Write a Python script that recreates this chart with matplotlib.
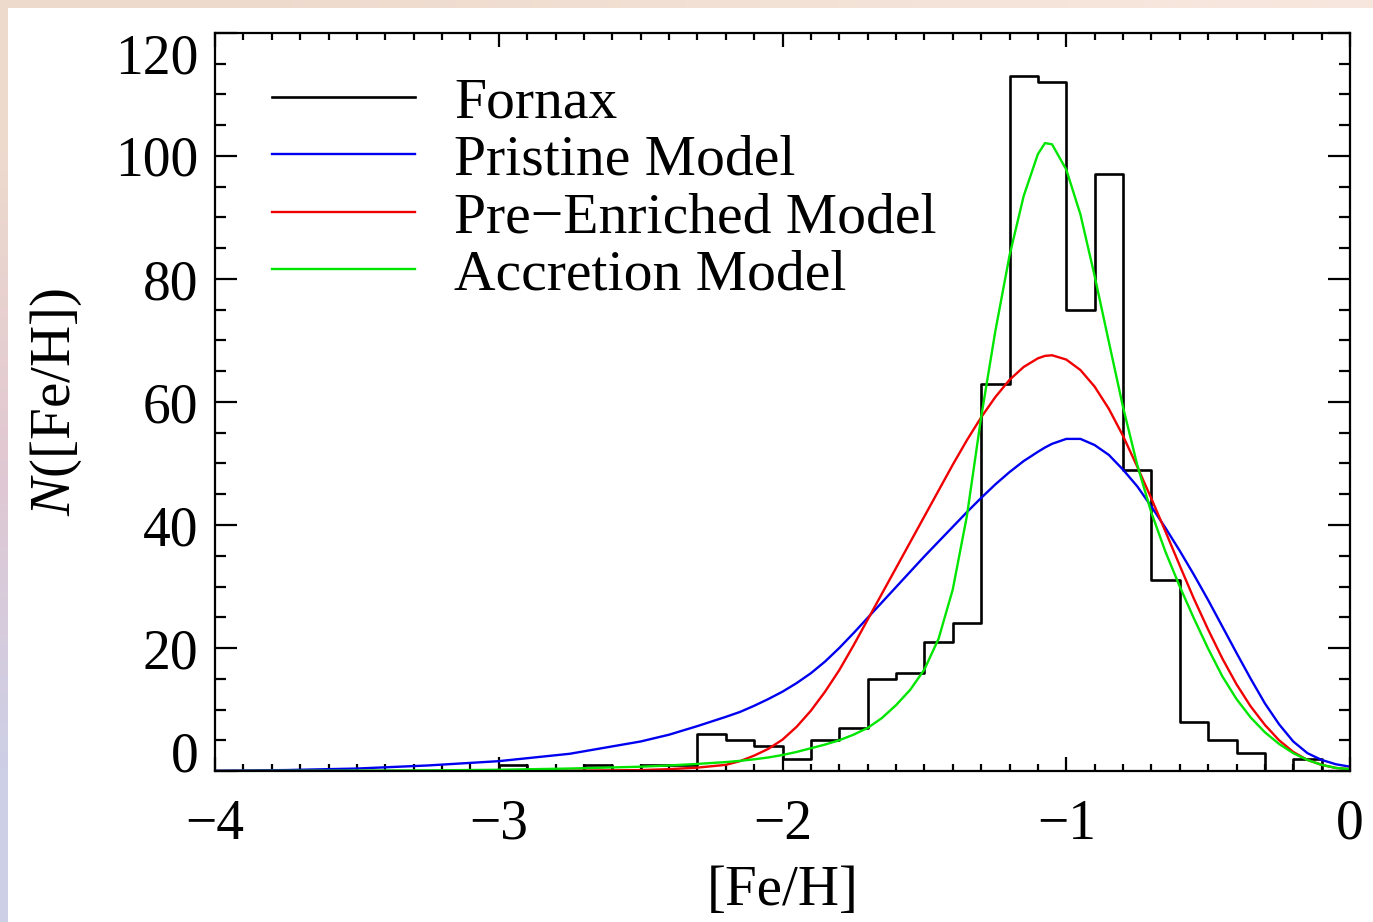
import numpy as np
import matplotlib
matplotlib.use('Agg')
import matplotlib.pyplot as plt
from matplotlib.ticker import MultipleLocator

plt.rcParams['font.family'] = ['Liberation Serif', 'DejaVu Serif']
plt.rcParams['mathtext.fontset'] = 'custom'
plt.rcParams['mathtext.it'] = 'Liberation Serif:italic'
plt.rcParams['mathtext.rm'] = 'Liberation Serif'

# Fornax metallicity distribution, 0.1 dex bins (left edges -3.1 ... -0.1)
bin_left = np.round(np.arange(-3.1, -0.05, 0.1), 2)
fornax_counts = [0, 1, 0, 0, 1, 0, 1, 1, 6, 5, 4, 2, 5, 7, 15, 16,
                 21, 24, 63, 113, 112, 75, 97, 49, 31, 8, 5, 3, 0, 2, 0]

# model curves
feh = [-4.0, -3.75, -3.5, -3.25, -3.0, -2.75, -2.5, -2.4, -2.3, -2.2,
       -2.15, -2.1, -2.05, -2.0, -1.95, -1.9, -1.85, -1.8, -1.75, -1.7,
       -1.65, -1.6, -1.55, -1.5, -1.45, -1.4, -1.35, -1.3, -1.25, -1.2,
       -1.15, -1.1, -1.075, -1.05, -1.0, -0.95, -0.9, -0.85, -0.8, -0.75,
       -0.7, -0.65, -0.6, -0.55, -0.5, -0.45, -0.4, -0.35, -0.3, -0.25,
       -0.2, -0.15, -0.1, -0.05, 0.0]
pristine = [0.05, 0.15, 0.4, 0.9, 1.6, 2.8, 4.8, 5.9, 7.3, 8.8,
            9.6, 10.6, 11.7, 12.9, 14.3, 15.9, 17.8, 20.0, 22.4, 24.9,
            27.4, 29.9, 32.4, 34.9, 37.3, 39.7, 42.1, 44.4, 46.6, 48.6,
            50.4, 51.9, 52.6, 53.2, 54.0, 54.0, 53.0, 51.4, 49.0, 46.3,
            43.0, 39.5, 35.8, 31.9, 27.8, 23.5, 19.2, 15.0, 11.0, 7.6,
            4.8, 2.9, 1.8, 1.1, 0.7]
pre_enriched = [0.0, 0.0, 0.0, 0.01, 0.02, 0.05, 0.15, 0.3, 0.55, 1.0,
                1.6, 2.5, 3.6, 5.1, 7.2, 9.8, 12.9, 16.4, 20.4, 24.6,
                28.8, 33.0, 37.2, 41.4, 45.6, 49.8, 53.8, 57.5, 60.8, 63.6,
                65.7, 67.1, 67.5, 67.6, 66.9, 65.2, 62.5, 58.9, 54.5, 49.5,
                44.3, 38.9, 33.4, 28.0, 23.0, 18.3, 14.1, 10.5, 7.5, 5.0,
                3.1, 1.8, 1.0, 0.5, 0.3]
accretion = [0.0, 0.02, 0.05, 0.1, 0.2, 0.4, 0.7, 0.9, 1.15, 1.45,
             1.65, 1.9, 2.2, 2.6, 3.1, 3.7, 4.3, 5.0, 5.9, 7.0,
             8.6, 10.7, 13.2, 16.5, 21.5, 29.5, 41.5, 57.5, 71.5, 83.8,
             93.5, 100.3, 102.1, 101.9, 97.8, 90.5, 80.5, 69.8, 59.2, 49.8,
             42.0, 35.6, 30.0, 24.8, 19.9, 15.4, 11.7, 8.7, 6.3, 4.4,
             2.9, 1.8, 1.0, 0.5, 0.3]

W, H = 1373, 922
fig = plt.figure(figsize=(W / 100, H / 100), dpi=100)

# faint coloured border strips (left and top)
left_strip = fig.add_axes([0, 0, 8 / W, 1])
grad = np.array([[238, 218, 205], [225, 200, 210], [205, 207, 230]]) / 255
left_strip.imshow(grad[:, None, :], aspect='auto', interpolation='bilinear')
left_strip.axis('off')
top_strip = fig.add_axes([0, 1 - 8 / H, 1, 8 / H])
grad2 = np.array([[238, 218, 205], [242, 224, 212], [246, 230, 220]]) / 255
top_strip.imshow(grad2[None, :, :], aspect='auto', interpolation='bilinear')
top_strip.axis('off')

ax = fig.add_axes([215 / W, 1 - 771 / H, (1350 - 215) / W, (771 - 33) / H])

ax.step(bin_left + 0.05, fornax_counts, where='mid', color='black', lw=1.9,
        label='Fornax')
ax.plot(feh, pristine, color='#0000f0', lw=1.7, label='Pristine Model')
ax.plot(feh, pre_enriched, color='#f00000', lw=1.7,
        label='Pre\u2212Enriched Model')
ax.plot(feh, accretion, color='#00e600', lw=1.7, label='Accretion Model')

ax.set_xlim(-4, 0)
ax.set_ylim(0, 120)
ax.xaxis.set_major_locator(MultipleLocator(1))
ax.xaxis.set_minor_locator(MultipleLocator(0.1))
ax.set_yticks([0, 20, 40, 60, 80, 100, 120])
ax.yaxis.set_minor_locator(MultipleLocator(5))
for s in ax.spines.values():
    s.set_linewidth(1.6)
ax.tick_params(axis='both', which='both', direction='in', top=True, right=True,
               width=1.6, labelsize=40)
ax.tick_params(axis='x', which='major', length=10, pad=20)
ax.tick_params(axis='x', which='minor', length=5)
ax.tick_params(axis='y', which='major', length=16, pad=12)
ax.tick_params(axis='y', which='minor', length=8)

ax.set_xlabel('[Fe/H]', fontsize=41, labelpad=10)
ax.set_ylabel('$\\mathit{N}$([Fe/H])', fontsize=41, labelpad=22)

fig.canvas.draw()
for lab in ax.get_yticklabels():
    if lab.get_text() == '0':
        lab.set_va('baseline')
    elif lab.get_text() == '120':
        lab.set_va('top')

ax.legend(loc='upper left', bbox_to_anchor=(0.03, 0.972), frameon=False,
          fontsize=41.5, handlelength=2.48, handletextpad=0.68,
          labelspacing=0.09, borderaxespad=0)

fig.savefig('out.png', dpi=100)
